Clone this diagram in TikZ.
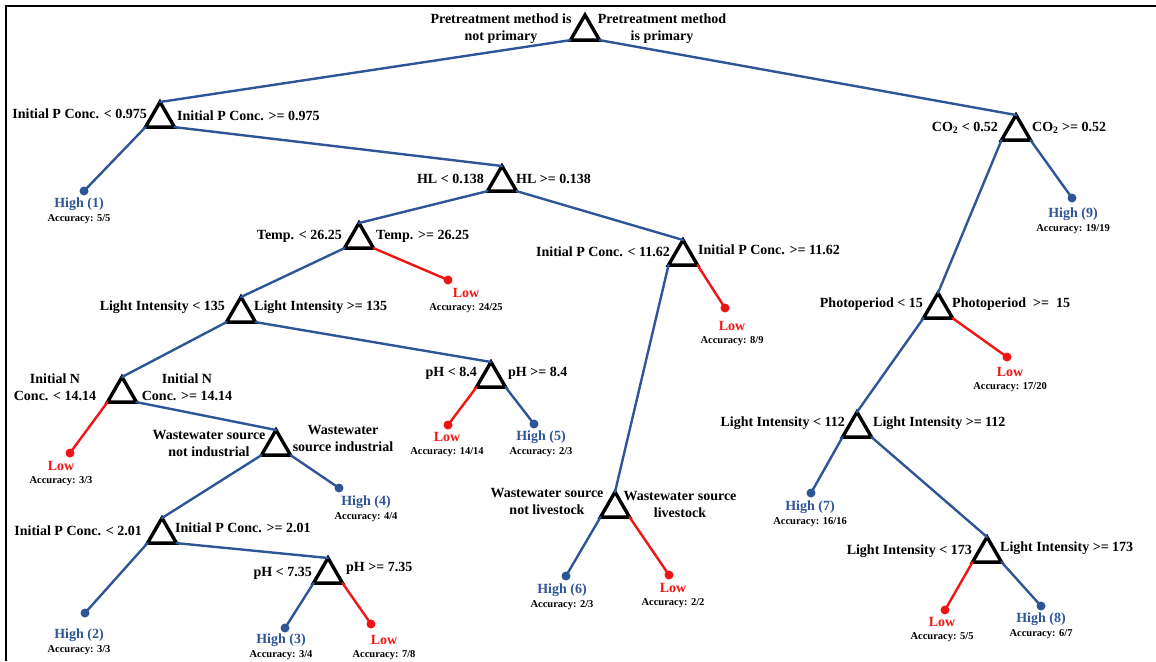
\documentclass[tikz,border=0pt]{standalone}
\usepackage{fontspec}
\setmainfont{Liberation Serif}
\usepackage{tikz}
\usetikzlibrary{shapes.geometric, positioning}
\definecolor{treeblue}{RGB}{47,85,151}
\definecolor{treered}{RGB}{240,20,20}

\tikzset{
    split/.style={regular polygon, regular polygon sides=3, draw, line width=3.4pt, minimum size=33.5pt, inner sep=0pt, outer sep=0pt},
    cond/.style={font=\fontsize{14}{17}\selectfont\bfseries, inner sep=0pt, align=center},
    leafdot/.style={circle, minimum size=9pt, inner sep=0pt},
    leaftext/.style={font=\fontsize{14}{16}\selectfont\bfseries, inner sep=0pt},
    acc/.style={font=\fontsize{10.5}{12}\selectfont\bfseries, inner sep=0pt},
    branch/.style={line width=2.4pt, line cap=round}
}

\begin{document}
\begin{tikzpicture}[x=1pt, y=-1pt]
\useasboundingbox (0,0) rectangle (1156,661);
\draw[line width=2pt] (6,661) -- (6,6) -- (1156,6);

\node[split] (root) at (585,31.75) {};
\node[split] (pc1) at (160,118.75) {};
\node[split] (co2) at (1016,131.75) {};
\node[split] (hl) at (502,182.75) {};
\node[split] (temp) at (359,239.75) {};
\node[split] (li1) at (241,313.75) {};
\node[split] (nc) at (122,393.75) {};
\node[split] (ph1) at (491,378.75) {};
\node[split] (pc2) at (683,256.75) {};
\node[split] (photo) at (938,309.75) {};
\node[split] (li2) at (857,428.75) {};
\node[split] (wwi) at (276,446.75) {};
\node[split] (pc3) at (162,534.75) {};
\node[split] (ph2) at (328,574.75) {};
\node[split] (wwl) at (615,508.75) {};
\node[split] (li3) at (987,553.75) {};

\node[cond] (rootL) at (501,28.5) {Pretreatment method is\\not primary};
\node[cond] (rootR) at (662,28.5) {Pretreatment method\\is primary};
\node[cond, anchor=east] (pc1L) at (147,114) {Initial P Conc. < 0.975};
\node[cond, anchor=west] (pc1R) at (177,116) {Initial P Conc. >= 0.975};
\node[cond, anchor=east] (co2L) at (998,128) {CO\textsubscript{2} < 0.52};
\node[cond, anchor=west] (co2R) at (1032,128) {CO\textsubscript{2} >= 0.52};
\node[cond, anchor=east] (hlL) at (484,179) {HL < 0.138};
\node[cond, anchor=west] (hlR) at (516,179) {HL >= 0.138};
\node[cond, anchor=east] (tempL) at (342,236) {Temp. < 26.25};
\node[cond, anchor=west] (tempR) at (376,236) {Temp. >= 26.25};
\node[cond, anchor=east] (li1L) at (225,307) {Light Intensity < 135};
\node[cond, anchor=west] (li1R) at (254,307) {Light Intensity >= 135};
\node[cond] (ncL) at (55,387.5) {Initial N\\Conc. < 14.14};
\node[cond] (ncR) at (187,387.5) {Initial N\\Conc. >= 14.14};
\node[cond, anchor=east] (ph1L) at (477,373) {pH < 8.4};
\node[cond, anchor=west] (ph1R) at (508,373) {pH >= 8.4};
\node[cond, anchor=east] (pc2L) at (670,252) {Initial P Conc. < 11.62};
\node[cond, anchor=west] (pc2R) at (698,250) {Initial P Conc. >= 11.62};
\node[cond, anchor=east] (photoL) at (923,304) {Photoperiod < 15};
\node[cond, anchor=west] (photoR) at (952,304) {Photoperiod \ >= \ 15};
\node[cond, anchor=east] (li2L) at (845,423) {Light Intensity < 112};
\node[cond, anchor=west] (li2R) at (873,423) {Light Intensity >= 112};
\node[cond] (wwiL) at (209,443.5) {Wastewater source\\not industrial};
\node[cond] (wwiR) at (343,438.5) {Wastewater\\source industrial};
\node[cond, anchor=east] (pc3L) at (142,531) {Initial P Conc. < 2.01};
\node[cond, anchor=west] (pc3R) at (175,528) {Initial P Conc. >= 2.01};
\node[cond, anchor=east] (ph2L) at (312,573) {pH < 7.35};
\node[cond, anchor=west] (ph2R) at (346,568) {pH >= 7.35};
\node[cond] (wwlL) at (547,501) {Wastewater source\\not livestock};
\node[cond] (wwlR) at (680,504.5) {Wastewater source\\livestock};
\node[cond, anchor=east] (li3L) at (972,551) {Light Intensity < 173};
\node[cond, anchor=west] (li3R) at (1000,548) {Light Intensity >= 173};

\foreach \n/\x/\y/\lx/\ly/\c/\t/\a in {
    h1/84/191/79/204/treeblue/{High (1)}/{5/5},
    h9/1072/198/1073/214/treeblue/{High (9)}/{19/19},
    lo1/448/280/466/293/treered/Low/{24/25},
    lo2/725/308/732/326/treered/Low/{8/9},
    lo3/1007/357/1010/372/treered/Low/{17/20},
    lo4/70/453/61/466/treered/Low/{3/3},
    lo5/448/425/447/437/treered/Low/{14/14},
    h5/534/424/541/437/treeblue/{High (5)}/{2/3},
    h4/339/488/366/502/treeblue/{High (4)}/{4/4},
    h7/811/493/810/507/treeblue/{High (7)}/{16/16},
    h2/85/613/79/635/treeblue/{High (2)}/{3/3},
    h3/285/628/281/640/treeblue/{High (3)}/{3/4},
    lo6/371/624/384/640/treered/Low/{7/8},
    h6/566/576/562/590/treeblue/{High (6)}/{2/3},
    lo7/669/575/673/588/treered/Low/{2/2},
    lo8/945/610/942/622/treered/Low/{5/5},
    h8/1041/606/1041/619/treeblue/{High (8)}/{6/7}}
{
    \node[leafdot, fill=\c] (\n) at (\x,\y) {};
    \node[leaftext, text=\c] (\n-cls) at (\lx,\ly) {\t};
    \node[acc] (\n-acc) at (\lx,\ly+15) {Accuracy: \a};
}

\draw[branch, treeblue] (root.corner 2) -- (pc1.corner 1);
\draw[branch, treeblue] (root.corner 3) -- (co2.corner 1);
\draw[branch, treeblue] (pc1.corner 2) -- (h1.center);
\draw[branch, treeblue] (pc1.corner 3) -- (hl.corner 1);
\draw[branch, treeblue] (co2.corner 2) -- (photo.corner 1);
\draw[branch, treeblue] (co2.corner 3) -- (h9.center);
\draw[branch, treeblue] (hl.corner 2) -- (temp.corner 1);
\draw[branch, treeblue] (hl.corner 3) -- (pc2.corner 1);
\draw[branch, treeblue] (temp.corner 2) -- (li1.corner 1);
\draw[branch, treered] (temp.corner 3) -- (lo1.center);
\draw[branch, treeblue] (li1.corner 2) -- (nc.corner 1);
\draw[branch, treeblue] (li1.corner 3) -- (ph1.corner 1);
\draw[branch, treered] (nc.corner 2) -- (lo4.center);
\draw[branch, treeblue] (nc.corner 3) -- (wwi.corner 1);
\draw[branch, treered] (ph1.corner 2) -- (lo5.center);
\draw[branch, treeblue] (ph1.corner 3) -- (h5.center);
\draw[branch, treeblue] (pc2.corner 2) -- (wwl.corner 1);
\draw[branch, treered] (pc2.corner 3) -- (lo2.center);
\draw[branch, treeblue] (photo.corner 2) -- (li2.corner 1);
\draw[branch, treered] (photo.corner 3) -- (lo3.center);
\draw[branch, treeblue] (li2.corner 2) -- (h7.center);
\draw[branch, treeblue] (li2.corner 3) -- (li3.corner 1);
\draw[branch, treeblue] (wwi.corner 2) -- (pc3.corner 1);
\draw[branch, treeblue] (wwi.corner 3) -- (h4.center);
\draw[branch, treeblue] (pc3.corner 2) -- (h2.center);
\draw[branch, treeblue] (pc3.corner 3) -- (ph2.corner 1);
\draw[branch, treeblue] (ph2.corner 2) -- (h3.center);
\draw[branch, treered] (ph2.corner 3) -- (lo6.center);
\draw[branch, treeblue] (wwl.corner 2) -- (h6.center);
\draw[branch, treered] (wwl.corner 3) -- (lo7.center);
\draw[branch, treered] (li3.corner 2) -- (lo8.center);
\draw[branch, treeblue] (li3.corner 3) -- (h8.center);
\end{tikzpicture}
\end{document}
